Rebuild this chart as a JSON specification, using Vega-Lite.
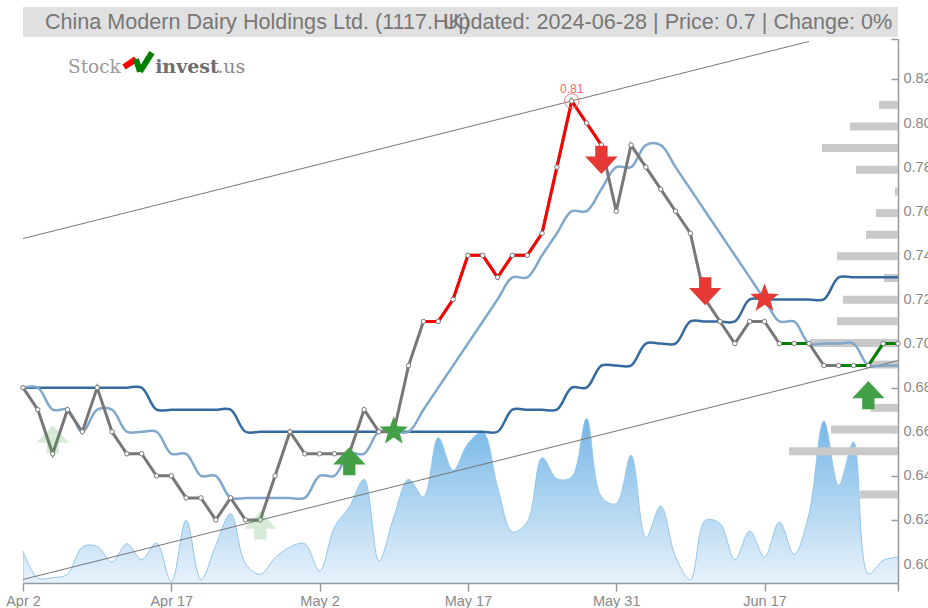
{
"$schema":"https://vega.github.io/schema/vega-lite/v6.json",
"padding":{"left":5,"top":7,"right":0,"bottom":0},
"background":"white",
"config":{"view":{"stroke":null},"font":"Liberation Sans"},
"datasets":{
"daily":[
{"d":"2024-04-02","close":0.68,"fast":0.68,"slow":0.68,"vol":96},
{"d":"2024-04-03","close":0.67,"fast":0.68,"slow":0.68,"vol":15},
{"d":"2024-04-05","close":0.65,"fast":0.67,"slow":0.68,"vol":16},
{"d":"2024-04-08","close":0.67,"fast":0.67,"slow":0.68,"vol":26},
{"d":"2024-04-09","close":0.66,"fast":0.66,"slow":0.68,"vol":108},
{"d":"2024-04-10","close":0.68,"fast":0.67,"slow":0.68,"vol":110},
{"d":"2024-04-11","close":0.66,"fast":0.67,"slow":0.68,"vol":63},
{"d":"2024-04-12","close":0.65,"fast":0.66,"slow":0.68,"vol":118},
{"d":"2024-04-15","close":0.65,"fast":0.66,"slow":0.68,"vol":70},
{"d":"2024-04-16","close":0.64,"fast":0.66,"slow":0.67,"vol":120},
{"d":"2024-04-17","close":0.64,"fast":0.65,"slow":0.67,"vol":3},
{"d":"2024-04-18","close":0.63,"fast":0.65,"slow":0.67,"vol":188},
{"d":"2024-04-19","close":0.63,"fast":0.64,"slow":0.67,"vol":10},
{"d":"2024-04-22","close":0.62,"fast":0.64,"slow":0.67,"vol":113},
{"d":"2024-04-23","close":0.63,"fast":0.63,"slow":0.67,"vol":208},
{"d":"2024-04-24","close":0.62,"fast":0.63,"slow":0.66,"vol":58},
{"d":"2024-04-25","close":0.62,"fast":0.63,"slow":0.66,"vol":26},
{"d":"2024-04-26","close":0.64,"fast":0.63,"slow":0.66,"vol":76},
{"d":"2024-04-29","close":0.66,"fast":0.63,"slow":0.66,"vol":108},
{"d":"2024-04-30","close":0.65,"fast":0.63,"slow":0.66,"vol":118},
{"d":"2024-05-02","close":0.65,"fast":0.64,"slow":0.66,"vol":36},
{"d":"2024-05-03","close":0.65,"fast":0.64,"slow":0.66,"vol":168},
{"d":"2024-05-06","close":0.65,"fast":0.65,"slow":0.66,"vol":228},
{"d":"2024-05-07","close":0.67,"fast":0.65,"slow":0.66,"vol":311},
{"d":"2024-05-08","close":0.66,"fast":0.66,"slow":0.66,"vol":66},
{"d":"2024-05-09","close":0.66,"fast":0.66,"slow":0.66,"vol":198},
{"d":"2024-05-10","close":0.69,"fast":0.66,"slow":0.66,"vol":311},
{"d":"2024-05-13","close":0.71,"fast":0.67,"slow":0.66,"vol":258},
{"d":"2024-05-14","close":0.71,"fast":0.68,"slow":0.66,"vol":436},
{"d":"2024-05-16","close":0.72,"fast":0.69,"slow":0.66,"vol":338},
{"d":"2024-05-17","close":0.74,"fast":0.70,"slow":0.66,"vol":418},
{"d":"2024-05-20","close":0.74,"fast":0.71,"slow":0.66,"vol":453},
{"d":"2024-05-21","close":0.73,"fast":0.72,"slow":0.66,"vol":288},
{"d":"2024-05-22","close":0.74,"fast":0.73,"slow":0.67,"vol":153},
{"d":"2024-05-23","close":0.74,"fast":0.73,"slow":0.67,"vol":183},
{"d":"2024-05-24","close":0.75,"fast":0.74,"slow":0.67,"vol":376},
{"d":"2024-05-27","close":0.78,"fast":0.75,"slow":0.67,"vol":313},
{"d":"2024-05-28","close":0.81,"fast":0.76,"slow":0.68,"vol":318},
{"d":"2024-05-29","close":0.80,"fast":0.76,"slow":0.68,"vol":493},
{"d":"2024-05-30","close":0.79,"fast":0.77,"slow":0.69,"vol":258},
{"d":"2024-05-31","close":0.76,"fast":0.78,"slow":0.69,"vol":238},
{"d":"2024-06-03","close":0.79,"fast":0.78,"slow":0.69,"vol":383},
{"d":"2024-06-04","close":0.78,"fast":0.79,"slow":0.70,"vol":136},
{"d":"2024-06-05","close":0.77,"fast":0.79,"slow":0.70,"vol":231},
{"d":"2024-06-06","close":0.76,"fast":0.78,"slow":0.70,"vol":78},
{"d":"2024-06-07","close":0.75,"fast":0.77,"slow":0.71,"vol":10},
{"d":"2024-06-11","close":0.72,"fast":0.76,"slow":0.71,"vol":188},
{"d":"2024-06-12","close":0.71,"fast":0.75,"slow":0.71,"vol":178},
{"d":"2024-06-13","close":0.70,"fast":0.74,"slow":0.71,"vol":70},
{"d":"2024-06-14","close":0.71,"fast":0.73,"slow":0.72,"vol":156},
{"d":"2024-06-17","close":0.71,"fast":0.72,"slow":0.72,"vol":78},
{"d":"2024-06-18","close":0.70,"fast":0.71,"slow":0.72,"vol":183},
{"d":"2024-06-19","close":0.70,"fast":0.71,"slow":0.72,"vol":86},
{"d":"2024-06-20","close":0.70,"fast":0.70,"slow":0.72,"vol":208},
{"d":"2024-06-21","close":0.69,"fast":0.70,"slow":0.72,"vol":486},
{"d":"2024-06-24","close":0.69,"fast":0.70,"slow":0.73,"vol":293},
{"d":"2024-06-25","close":0.69,"fast":0.70,"slow":0.73,"vol":423},
{"d":"2024-06-26","close":0.69,"fast":0.69,"slow":0.73,"vol":28},
{"d":"2024-06-27","close":0.70,"fast":0.69,"slow":0.73,"vol":68},
{"d":"2024-06-28","close":0.70,"fast":0.69,"slow":0.73,"vol":78}
],
"runs":[
{"d":"2024-05-13","close":0.71,"run":"up"},{"d":"2024-05-14","close":0.71,"run":"up"},{"d":"2024-05-16","close":0.72,"run":"up"},{"d":"2024-05-17","close":0.74,"run":"up"},{"d":"2024-05-20","close":0.74,"run":"up"},{"d":"2024-05-21","close":0.73,"run":"up"},{"d":"2024-05-22","close":0.74,"run":"up"},{"d":"2024-05-23","close":0.74,"run":"up"},{"d":"2024-05-24","close":0.75,"run":"up"},{"d":"2024-05-27","close":0.78,"run":"up"},{"d":"2024-05-28","close":0.81,"run":"up"},{"d":"2024-05-29","close":0.80,"run":"up"},{"d":"2024-05-30","close":0.79,"run":"up"},
{"d":"2024-06-18","close":0.70,"run":"green1"},{"d":"2024-06-19","close":0.70,"run":"green1"},{"d":"2024-06-20","close":0.70,"run":"green1"},
{"d":"2024-06-24","close":0.69,"run":"green2"},{"d":"2024-06-25","close":0.69,"run":"green2"},{"d":"2024-06-26","close":0.69,"run":"green2"},{"d":"2024-06-27","close":0.70,"run":"green2"},{"d":"2024-06-28","close":0.70,"run":"green2"}
],
"trend":[
{"d":"2024-04-02","level":0.7476,"line":"upper"},{"d":"2024-06-20","level":0.837,"line":"upper"},
{"d":"2024-04-02","level":0.593,"line":"lower"},{"d":"2024-06-28","level":0.6923,"line":"lower"}
],
"profile":[
{"price":0.81,"amount":19},{"price":0.80,"amount":48},{"price":0.79,"amount":76},{"price":0.78,"amount":42},{"price":0.77,"amount":3},{"price":0.76,"amount":22},{"price":0.75,"amount":32},{"price":0.74,"amount":61},{"price":0.73,"amount":14},{"price":0.72,"amount":55},{"price":0.71,"amount":61},{"price":0.70,"amount":88},{"price":0.69,"amount":28},{"price":0.67,"amount":27},{"price":0.66,"amount":67},{"price":0.65,"amount":109},{"price":0.63,"amount":38}
],
"signals":[
{"d":"2024-04-05","at":0.6565,"kind":"buy","strength":"weak"},
{"d":"2024-04-25","at":0.6175,"kind":"buy","strength":"weak"},
{"d":"2024-05-06","at":0.6466,"kind":"buy","strength":"strong"},
{"d":"2024-06-26","at":0.6766,"kind":"buy","strength":"strong"},
{"d":"2024-05-30","at":0.7833,"kind":"sell","strength":"strong"},
{"d":"2024-06-11","at":0.7237,"kind":"sell","strength":"strong"},
{"d":"2024-05-09","at":0.6602,"kind":"greenstar","strength":"strong"},
{"d":"2024-06-17","at":0.7204,"kind":"redstar","strength":"strong"}
],
"peak":[{"d":"2024-05-28","close":0.81,"label":"0.81"}],
"logoMark":[
{"lx":11.54,"ly":94.85,"part":"a"},{"lx":12.91,"ly":96.3,"part":"a"},
{"lx":12.91,"ly":96.3,"part":"b"},{"lx":13.37,"ly":94.0,"part":"b"},
{"lx":13.37,"ly":94.0,"part":"c"},{"lx":14.74,"ly":97.5,"part":"c"}
]
},
"vconcat":[
{
"width":875,"height":30,
"view":{"fill":"#e0e0e0","stroke":null},
"data":{"values":[{"px":0.025,"anchor":"left","label":"China Modern Dairy Holdings Ltd. (1117.HK)"},{"px":0.9935,"anchor":"right","label":"Updated: 2024-06-28 | Price: 0.7 | Change: 0%"}]},
"layer":[
{"transform":[{"filter":"datum.anchor==='left'"}],"mark":{"type":"text","align":"left","baseline":"middle","fontSize":21.6,"color":"#777777","dy":1},
"encoding":{"x":{"field":"px","type":"quantitative","scale":{"domain":[0,1]},"axis":null},"y":{"datum":0.5,"type":"quantitative","scale":{"domain":[0,1]},"axis":null},"text":{"field":"label"}}},
{"transform":[{"filter":"datum.anchor==='right'"}],"mark":{"type":"text","align":"right","baseline":"middle","fontSize":21.6,"color":"#777777","dy":1},
"encoding":{"x":{"field":"px","type":"quantitative","scale":{"domain":[0,1]},"axis":null},"y":{"datum":0.5,"type":"quantitative","scale":{"domain":[0,1]},"axis":null},"text":{"field":"label"}}}
]
},
{
"width":875,"height":544,
"resolve":{"scale":{"x":"independent","y":"independent"}},
"layer":[
{"data":{"name":"daily"},
"mark":{"type":"area","interpolate":"catmull-rom","clip":true,"stroke":"#92c6ec","strokeWidth":1,"fill":{"gradient":"linear","x1":0,"y1":0,"x2":0,"y2":1,"stops":[{"offset":0,"color":"#74b6e6"},{"offset":1,"color":"#e8f2fb"}]}},
"encoding":{"x":{"field":"d","type":"ordinal","scale":{"type":"point","padding":0},"axis":null},
"y":{"field":"vol","type":"quantitative","scale":{"domain":[0,1632]},"axis":null}}},
{"data":{"name":"profile"},
"mark":{"type":"bar","orient":"horizontal","size":8,"color":"#c9c9c9"},
"encoding":{"x":{"field":"amount","type":"quantitative","stack":null,"scale":{"domain":[0,875],"reverse":true},"axis":null},
"y":{"field":"price","type":"quantitative","scale":{"domain":[0.5914,0.8381]},"axis":null}}},
{
"encoding":{"x":{"field":"d","type":"ordinal","scale":{"type":"point","padding":0},
"axis":{"orient":"bottom","title":null,"values":["2024-04-02","2024-04-17","2024-05-02","2024-05-17","2024-05-31","2024-06-17","2024-06-28"],"labelExpr":"datum.value==='2024-06-28'?'':utcFormat(toDate(datum.value),'%b %-d')","labelAngle":0,"labelFontSize":14.5,"labelColor":"#888888","labelPadding":3,"tickSize":8,"tickColor":"#999999","tickWidth":1.5,"domainColor":"#999999","domainWidth":1.5,"grid":false,"labelOverlap":false}}},
"layer":[
{"data":{"name":"trend"},"mark":{"type":"line","color":"#777777","strokeWidth":1},
"encoding":{"y":{"field":"level","type":"quantitative","scale":{"domain":[0.5914,0.8381],"nice":false,"zero":false},"axis":{"orient":"right","title":null,"values":[0.60,0.62,0.64,0.66,0.68,0.70,0.72,0.74,0.76,0.78,0.80,0.82,0.8381],"labelExpr":"datum.value>0.83?'':format(datum.value,'.2f')","labelFontSize":14.5,"labelColor":"#888888","labelPadding":12,"tickSize":-7,"tickColor":"#999999","tickWidth":1.5,"domainColor":"#999999","domainWidth":1.5,"grid":false}},"detail":{"field":"line"}}},
{"data":{"name":"daily"},"mark":{"type":"line","interpolate":"catmull-rom","color":"#346a9e","strokeWidth":2.5},
"encoding":{"y":{"field":"slow","type":"quantitative","scale":{"domain":[0.5914,0.8381],"nice":false,"zero":false}}}},
{"data":{"name":"daily"},"mark":{"type":"line","interpolate":"catmull-rom","color":"#7fa8cc","strokeWidth":2.5},
"encoding":{"y":{"field":"fast","type":"quantitative","scale":{"domain":[0.5914,0.8381],"nice":false,"zero":false}}}},
{"data":{"name":"daily"},"mark":{"type":"line","color":"#777777","strokeWidth":3},
"encoding":{"y":{"field":"close","type":"quantitative","scale":{"domain":[0.5914,0.8381],"nice":false,"zero":false}}}},
{"data":{"name":"runs"},"mark":{"type":"line","strokeWidth":3},
"encoding":{"y":{"field":"close","type":"quantitative","scale":{"domain":[0.5914,0.8381],"nice":false,"zero":false}},"color":{"field":"run","type":"nominal","scale":{"domain":["up","green1","green2"],"range":["#ff0000","#008000","#008000"]},"legend":null}}},
{"data":{"name":"daily"},"mark":{"type":"point","filled":true,"fill":"white","stroke":"#777777","strokeWidth":1,"size":20,"opacity":1},
"encoding":{"y":{"field":"close","type":"quantitative","scale":{"domain":[0.5914,0.8381],"nice":false,"zero":false}}}},
{"data":{"name":"peak"},"mark":{"type":"point","filled":false,"stroke":"#f08080","strokeWidth":1,"size":210,"opacity":1},
"encoding":{"y":{"field":"close","type":"quantitative","scale":{"domain":[0.5914,0.8381],"nice":false,"zero":false}}}},
{"data":{"name":"peak"},"mark":{"type":"text","color":"#f46a6a","fontSize":12,"dy":-12},
"encoding":{"y":{"field":"close","type":"quantitative","scale":{"domain":[0.5914,0.8381],"nice":false,"zero":false}},"text":{"field":"label"}}},
{"data":{"name":"signals"},"transform":[{"filter":"datum.kind==='buy'"}],
"mark":{"type":"point","filled":true,"size":1050,"shape":"M0,-0.87 L1,0.2 L0.38,0.2 L0.38,0.87 L-0.38,0.87 L-0.38,0.2 L-1,0.2 Z","color":"#43a047"},
"encoding":{"y":{"field":"at","type":"quantitative","scale":{"domain":[0.5914,0.8381],"nice":false,"zero":false}},"opacity":{"field":"strength","type":"nominal","scale":{"domain":["weak","strong"],"range":[0.22,1]},"legend":null}}},
{"data":{"name":"signals"},"transform":[{"filter":"datum.kind==='sell'"}],
"mark":{"type":"point","filled":true,"size":1050,"opacity":1,"shape":"M-0.38,-0.87 L0.38,-0.87 L0.38,-0.2 L1,-0.2 L0,0.87 L-1,-0.2 L-0.38,-0.2 Z","color":"#e53935"},
"encoding":{"y":{"field":"at","type":"quantitative","scale":{"domain":[0.5914,0.8381],"nice":false,"zero":false}}}},
{"data":{"name":"signals"},"transform":[{"filter":"datum.kind==='greenstar'"}],
"mark":{"type":"point","filled":true,"size":900,"opacity":1,"color":"#43a047","shape":"M0,-1 L0.247,-0.34 L0.951,-0.309 L0.4,0.13 L0.588,0.809 L0,0.42 L-0.588,0.809 L-0.4,0.13 L-0.951,-0.309 L-0.247,-0.34 Z"},
"encoding":{"y":{"field":"at","type":"quantitative","scale":{"domain":[0.5914,0.8381],"nice":false,"zero":false}}}},
{"data":{"name":"signals"},"transform":[{"filter":"datum.kind==='redstar'"}],
"mark":{"type":"point","filled":true,"size":900,"opacity":1,"color":"#e53935","shape":"M0,-1 L0.247,-0.34 L0.951,-0.309 L0.4,0.13 L0.588,0.809 L0,0.42 L-0.588,0.809 L-0.4,0.13 L-0.951,-0.309 L-0.247,-0.34 Z"},
"encoding":{"y":{"field":"at","type":"quantitative","scale":{"domain":[0.5914,0.8381],"nice":false,"zero":false}}}}
]
},
{"data":{"name":"logoMark"},"mark":{"type":"line","strokeWidth":6},
"encoding":{"x":{"field":"lx","type":"quantitative","scale":{"domain":[0,100]},"axis":null},"y":{"field":"ly","type":"quantitative","scale":{"domain":[0,100]},"axis":null},
"color":{"field":"part","type":"nominal","scale":{"domain":["a","b","c"],"range":["#b52d96","#f07a2c","#c4289a"]},"legend":null}}},
{"data":{"values":[{"lx":5.14,"ly":93.8,"label":"Stock"}]},"mark":{"type":"text","align":"left","baseline":"alphabetic","font":"DejaVu Serif","fontSize":18.5,"color":"#9a9a9a"},
"encoding":{"x":{"field":"lx","type":"quantitative","scale":{"domain":[0,100]},"axis":null},"y":{"field":"ly","type":"quantitative","scale":{"domain":[0,100]},"axis":null},"text":{"field":"label"}}},
{"data":{"values":[{"lx":15.1,"ly":93.8,"label":"invest"}]},"mark":{"type":"text","align":"left","baseline":"alphabetic","font":"DejaVu Serif","fontWeight":"bold","fontSize":19,"color":"#6e6e6e"},
"encoding":{"x":{"field":"lx","type":"quantitative","scale":{"domain":[0,100]},"axis":null},"y":{"field":"ly","type":"quantitative","scale":{"domain":[0,100]},"axis":null},"text":{"field":"label"}}},
{"data":{"values":[{"lx":22.2,"ly":93.8,"label":".us"}]},"mark":{"type":"text","align":"left","baseline":"alphabetic","font":"DejaVu Serif","fontSize":19,"color":"#8a8a8a"},
"encoding":{"x":{"field":"lx","type":"quantitative","scale":{"domain":[0,100]},"axis":null},"y":{"field":"ly","type":"quantitative","scale":{"domain":[0,100]},"axis":null},"text":{"field":"label"}}}
]
}
],
"spacing":1
}
